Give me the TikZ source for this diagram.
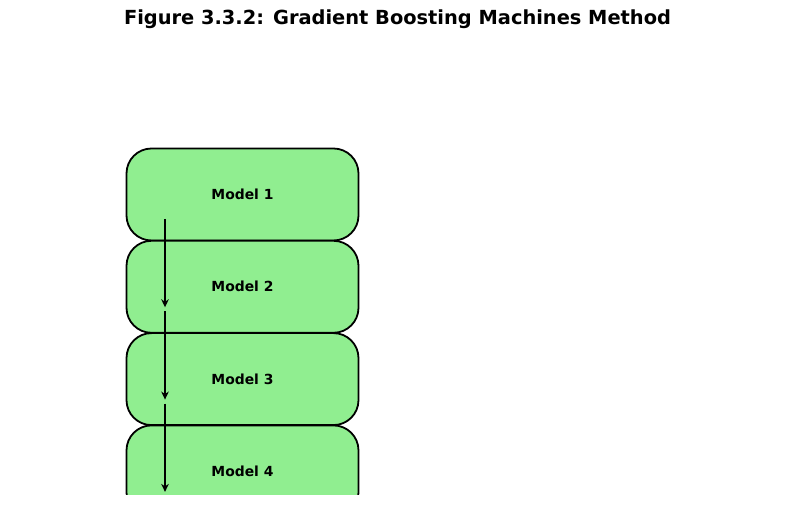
\documentclass[tikz,border=0pt]{standalone}
\usepackage{fontspec}
\setmainfont{DejaVu Sans}
\usetikzlibrary{positioning,arrows.meta}
\definecolor{lightgreen}{HTML}{90EE90}

\begin{document}
\begin{tikzpicture}[x=1pt,y=1pt,
	model/.style={draw=black,fill=lightgreen,line width=1.8pt,rounded corners=25pt,
		minimum width=232pt,minimum height=92pt,inner sep=0pt,
		font=\fontsize{13.9}{16}\selectfont\bfseries},
	step arrow/.style={-{Stealth[length=8pt,width=7.5pt,inset=2.5pt]},line width=1.8pt}]
	\useasboundingbox (0,0) rectangle (794,505);
	\node[font=\fontsize{19.4}{23}\selectfont\bfseries] (title) at (397.5,486) {Figure 3.3.2: Gradient Boosting Machines Method};
	\begin{scope}
		\clip (0,10) rectangle (794,505);
		\node[model] (m1) at (242.5,310.5) {Model 1};
		\node[model] (m2) at (242.5,218.2) {Model 2};
		\node[model] (m3) at (242.5,125.9) {Model 3};
		\node[model] (m4) at (242.5,33.6) {Model 4};
		\coordinate []  (s1) at ([xshift=-77.5pt,yshift=-24.5pt]m1.center) ;
		\coordinate []  (t1) at ([xshift=-77.5pt,yshift=-20.5pt]m2.center) ;
		\coordinate []  (s2) at ([xshift=-77.5pt,yshift=-24.5pt]m2.center) ;
		\coordinate []  (t2) at ([xshift=-77.5pt,yshift=-20.5pt]m3.center) ;
		\coordinate []  (s3) at ([xshift=-77.5pt,yshift=-24.5pt]m3.center) ;
		\coordinate []  (t3) at ([xshift=-77.5pt,yshift=-20.5pt]m4.center) ;
		\path[step arrow] (s1) edge (t1);
		\path[step arrow] (s2) edge (t2);
		\path[step arrow] (s3) edge (t3);
	\end{scope}
\end{tikzpicture}
\end{document}
